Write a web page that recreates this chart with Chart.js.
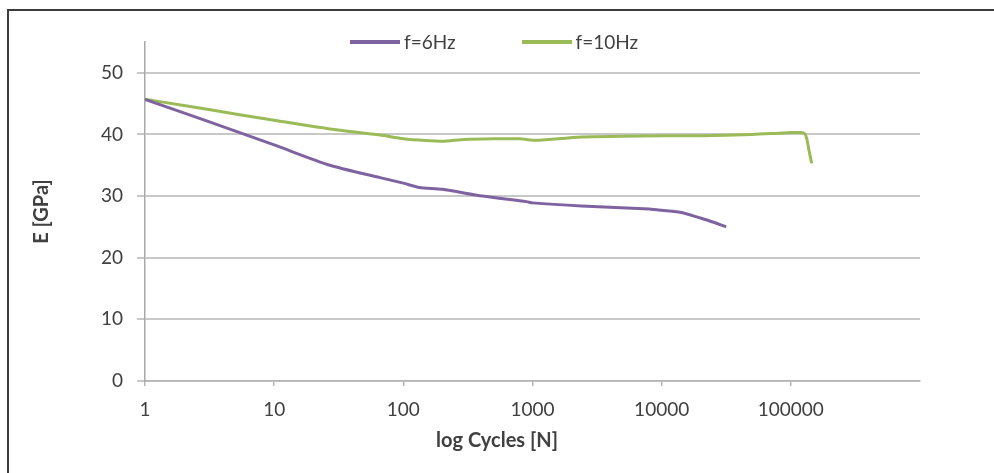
<!DOCTYPE html>
<html><head><meta charset="utf-8">
<script src="https://cdn.jsdelivr.net/npm/chart.js@4.4.1/dist/chart.umd.min.js"></script>
<style>
html,body{margin:0;padding:0;background:#fff;}
#wrap{position:relative;width:994px;height:473px;overflow:hidden;}
canvas{position:absolute;left:0;top:0;}
#frame{position:absolute;left:7px;top:9px;width:1000px;height:480px;border-left:2px solid #3c3c3c;border-top:2px solid #3c3c3c;pointer-events:none;}
#legend{position:absolute;left:350px;top:30px;display:flex;align-items:center;font:19px Lato, sans-serif;color:#404040;}
.item{display:flex;align-items:center;margin-right:66px;}
.swatch{width:50px;height:4px;margin-right:4px;}
</style></head>
<body><div id="wrap"><canvas id="c" width="994" height="473"></canvas><div id="legend"></div><div id="frame"></div></div>
<script>
const seriesNames = ['f=6Hz', 'f=10Hz'];
const cycles6  = [1, 3, 10, 27, 66, 100, 133, 200, 410, 900, 1000, 2400, 8000, 10000, 14500, 19500, 23300, 31600];
const modulus6 = [45.7, 42.2, 38.3, 35.0, 33.0, 32.1, 31.4, 31.1, 30.0, 29.1, 28.9, 28.4, 27.9, 27.7, 27.3, 26.5, 26.0, 25.0];
const cycles10  = [1, 2, 5.4, 10, 27, 66, 100, 150, 200, 300, 500, 800, 1000, 1200, 2400, 5000, 10000, 20000, 50000, 80000, 100000, 120000, 128000, 133000, 138000, 145000];
const modulus10 = [45.7, 44.7, 43.2, 42.3, 40.9, 39.9, 39.3, 39.0, 38.9, 39.2, 39.3, 39.3, 39.05, 39.1, 39.6, 39.7, 39.8, 39.8, 40.0, 40.2, 40.3, 40.3, 40.1, 39.3, 37.5, 35.3];
const xTickValues = [1, 10, 100, 1000, 10000, 100000];
const yTickValues = [0, 10, 20, 30, 40, 50];
const colors = ['#7F63A1', '#9BBB59'];
const xTitle = 'log Cycles [N]';
const yTitle = 'E [GPa]';

const FONT = 'Lato, "Open Sans", sans-serif';
const TXT = '#404040';

const htmlLegend = {
  id: 'htmlLegend',
  afterUpdate(chart) {
    const box = document.getElementById('legend');
    box.innerHTML = '';
    const items = Chart.defaults.plugins.legend.labels.generateLabels(chart);
    items.forEach(it => {
      const d = document.createElement('div'); d.className = 'item';
      const s = document.createElement('span'); s.className = 'swatch'; s.style.background = it.strokeStyle;
      const t = document.createElement('span'); t.textContent = it.text;
      d.appendChild(s); d.appendChild(t); box.appendChild(d);
    });
  }
};

new Chart(document.getElementById('c'), {
  type: 'scatter',
  data: {
    datasets: [
      { label: seriesNames[0], data: cycles6.map((x, i) => ({x, y: modulus6[i]})), borderColor: colors[0], backgroundColor: colors[0], showLine: true, pointRadius: 0, borderWidth: 3, tension: 0.25 },
      { label: seriesNames[1], data: cycles10.map((x, i) => ({x, y: modulus10[i]})), borderColor: colors[1], backgroundColor: colors[1], showLine: true, pointRadius: 0, borderWidth: 3, tension: 0.25 }
    ]
  },
  options: {
    responsive: false, animation: false, devicePixelRatio: 1,
    layout: { padding: { left: 0, right: 0, top: 42, bottom: 20 } },
    plugins: {
      legend: { display: false },
      tooltip: { enabled: false },
      title: { display: true, position: 'bottom', text: xTitle, color: TXT, font: { family: FONT, size: 20, weight: 'bold', lineHeight: 1.2 }, padding: 0 }
    },
    scales: {
      x: {
        type: 'logarithmic', min: 1, max: 1000000,
        afterBuildTicks(s) { s.ticks = xTickValues.map(v => ({ value: v })); },
        afterFit(s) { s.height = 48; },
        ticks: { color: TXT, font: { family: FONT, size: 19 }, padding: 12, maxRotation: 0, autoSkip: false, callback: v => String(v) },
        grid: { drawOnChartArea: false, drawTicks: true, tickLength: 5, color: '#b5b5b5', lineWidth: 1.5 },
        border: { display: true, color: '#b5b5b5', width: 1.5 }
      },
      y: {
        min: 0, max: 55,
        afterBuildTicks(s) { s.ticks = yTickValues.map(v => ({ value: v })); },
        afterFit(s) { s.width = 145; },
        ticks: { color: TXT, font: { family: FONT, size: 19 }, padding: 14 },
        grid: { color: '#c8c8c8', lineWidth: 2, tickLength: 8, drawTicks: true },
        border: { display: true, color: '#a8a8a8', width: 1.5 },
        title: { display: true, text: yTitle, color: TXT, font: { family: FONT, size: 20, weight: 'bold', lineHeight: 1.2 }, padding: { top: 30, bottom: 0 } }
      },
      y2: {
        position: 'right', display: true,
        afterFit(s) { s.width = 74; },
        ticks: { display: false }, grid: { display: false }, border: { display: false }
      }
    }
  },
  plugins: [htmlLegend]
});
</script>
</body></html>
